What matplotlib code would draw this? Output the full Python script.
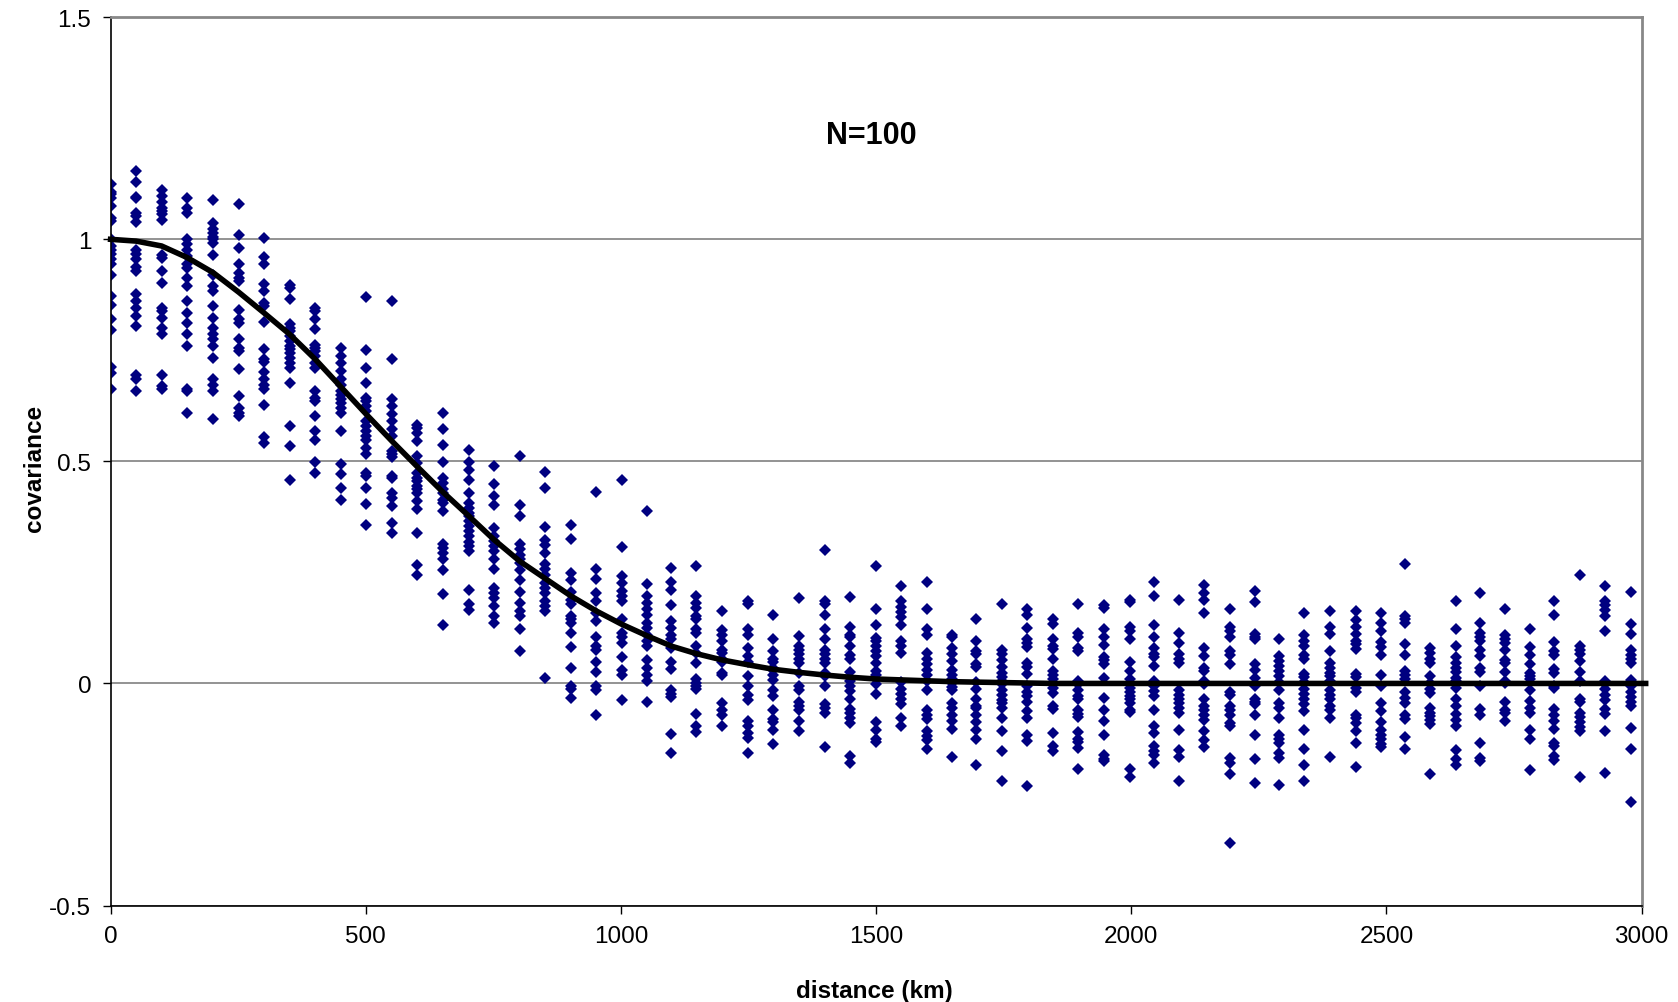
import matplotlib
matplotlib.use("Agg")
import matplotlib.pyplot as plt

# distance classes (km) and sampled covariances per class
distance_km = [0, 50, 100, 150, 201, 251, 300, 351, 401, 451, 501, 551, 601, 652, 702, 751,
               802, 852, 902, 952, 1002, 1052, 1099, 1148, 1198, 1249, 1298, 1349, 1399, 1449,
               1500, 1549, 1599, 1649, 1696, 1746, 1796, 1847, 1896, 1947, 1997, 2044, 2093,
               2143, 2193, 2243, 2289, 2339, 2390, 2440, 2489, 2536, 2586, 2637, 2683, 2732,
               2782, 2829, 2879, 2929, 2979]

samples = [
    [1.124, 1.107, 1.101, 1.092, 1.075, 1.049, 1.041, 1.0, 0.985, 0.977, 0.966, 0.955, 0.944, 0.919, 0.872, 0.853, 0.821, 0.795, 0.713, 0.7, 0.664],
    [1.154, 1.128, 1.096, 1.092, 1.06, 1.052, 1.039, 0.977, 0.968, 0.955, 0.938, 0.929, 0.876, 0.861, 0.846, 0.827, 0.805, 0.694, 0.686, 0.658],
    [1.111, 1.098, 1.084, 1.071, 1.064, 1.056, 1.043, 0.964, 0.959, 0.929, 0.902, 0.846, 0.838, 0.823, 0.801, 0.786, 0.694, 0.67, 0.664],
    [1.092, 1.071, 1.06, 1.0, 0.989, 0.977, 0.962, 0.944, 0.936, 0.914, 0.896, 0.861, 0.835, 0.812, 0.786, 0.76, 0.664, 0.658, 0.609],
    [1.088, 1.036, 1.023, 1.015, 1.006, 1.0, 0.992, 0.964, 0.919, 0.896, 0.884, 0.85, 0.823, 0.801, 0.786, 0.776, 0.76, 0.733, 0.686, 0.673, 0.658, 0.596],
    [1.079, 1.009, 0.981, 0.944, 0.925, 0.914, 0.906, 0.84, 0.82, 0.812, 0.776, 0.756, 0.748, 0.707, 0.648, 0.621, 0.609, 0.602],
    [1.004, 0.961, 0.944, 0.899, 0.884, 0.857, 0.85, 0.814, 0.752, 0.73, 0.724, 0.701, 0.686, 0.673, 0.664, 0.626, 0.555, 0.542],
    [0.898, 0.891, 0.866, 0.809, 0.801, 0.793, 0.782, 0.771, 0.76, 0.752, 0.743, 0.733, 0.722, 0.711, 0.677, 0.58, 0.534, 0.459],
    [0.846, 0.838, 0.82, 0.799, 0.763, 0.756, 0.748, 0.737, 0.722, 0.711, 0.658, 0.643, 0.636, 0.602, 0.568, 0.549, 0.499, 0.473],
    [0.756, 0.737, 0.721, 0.703, 0.685, 0.671, 0.658, 0.649, 0.64, 0.631, 0.621, 0.61, 0.568, 0.495, 0.471, 0.441, 0.414],
    [0.871, 0.751, 0.711, 0.676, 0.643, 0.636, 0.625, 0.613, 0.591, 0.58, 0.568, 0.557, 0.549, 0.531, 0.516, 0.474, 0.467, 0.441, 0.405, 0.356],
    [0.861, 0.73, 0.641, 0.625, 0.606, 0.591, 0.574, 0.557, 0.523, 0.516, 0.51, 0.467, 0.463, 0.429, 0.418, 0.399, 0.362, 0.339],
    [0.583, 0.576, 0.564, 0.546, 0.512, 0.497, 0.474, 0.463, 0.456, 0.444, 0.437, 0.429, 0.411, 0.392, 0.339, 0.266, 0.245],
    [0.61, 0.574, 0.538, 0.498, 0.463, 0.452, 0.437, 0.429, 0.414, 0.407, 0.388, 0.313, 0.305, 0.294, 0.281, 0.255, 0.202, 0.131],
    [0.525, 0.498, 0.48, 0.458, 0.429, 0.407, 0.395, 0.384, 0.377, 0.365, 0.354, 0.343, 0.332, 0.318, 0.309, 0.298, 0.211, 0.178, 0.166],
    [0.489, 0.45, 0.423, 0.401, 0.35, 0.332, 0.32, 0.309, 0.298, 0.281, 0.257, 0.215, 0.204, 0.193, 0.174, 0.151, 0.136],
    [0.512, 0.401, 0.378, 0.313, 0.302, 0.29, 0.281, 0.272, 0.255, 0.233, 0.206, 0.182, 0.163, 0.151, 0.123, 0.073],
    [0.477, 0.441, 0.353, 0.324, 0.311, 0.294, 0.268, 0.257, 0.245, 0.227, 0.215, 0.204, 0.185, 0.174, 0.163, 0.012],
    [0.356, 0.326, 0.248, 0.234, 0.206, 0.189, 0.178, 0.152, 0.144, 0.135, 0.114, 0.082, 0.034, -0.006, -0.012, -0.032],
    [0.432, 0.257, 0.236, 0.203, 0.185, 0.159, 0.14, 0.105, 0.085, 0.076, 0.048, 0.025, -0.005, -0.015, -0.072],
    [0.459, 0.308, 0.243, 0.227, 0.208, 0.198, 0.185, 0.144, 0.114, 0.105, 0.09, 0.06, 0.031, 0.02, -0.038],
    [0.388, 0.225, 0.198, 0.182, 0.168, 0.155, 0.135, 0.125, 0.11, 0.095, 0.084, 0.052, 0.035, 0.02, 0.005, -0.042],
    [0.26, 0.228, 0.21, 0.176, 0.14, 0.125, 0.11, 0.099, 0.08, 0.048, 0.033, -0.014, -0.023, -0.03, -0.113, -0.156],
    [0.264, 0.198, 0.182, 0.17, 0.152, 0.144, 0.123, 0.114, 0.085, 0.069, 0.046, 0.009, 0.001, -0.006, -0.012, -0.068, -0.095, -0.11],
    [0.163, 0.12, 0.11, 0.095, 0.076, 0.069, 0.055, 0.048, 0.024, 0.018, -0.044, -0.059, -0.072, -0.095],
    [0.185, 0.18, 0.123, 0.11, 0.08, 0.061, 0.048, 0.016, -0.005, -0.027, -0.038, -0.085, -0.096, -0.111, -0.123, -0.156],
    [0.153, 0.1, 0.074, 0.055, 0.048, 0.035, 0.03, 0.02, 0.007, -0.014, -0.029, -0.059, -0.081, -0.087, -0.104, -0.137],
    [0.193, 0.106, 0.084, 0.076, 0.067, 0.054, 0.045, 0.024, -0.005, -0.014, -0.042, -0.051, -0.059, -0.085, -0.107],
    [0.3, 0.185, 0.18, 0.153, 0.123, 0.1, 0.076, 0.067, 0.055, 0.046, 0.024, 0.016, -0.006, -0.047, -0.055, -0.066, -0.143],
    [0.194, 0.128, 0.11, 0.105, 0.085, 0.065, 0.055, 0.025, 0.005, -0.006, -0.017, -0.035, -0.057, -0.066, -0.077, -0.09, -0.164, -0.179],
    [0.264, 0.167, 0.131, 0.103, 0.095, 0.084, 0.073, 0.061, 0.046, 0.028, 0.02, 0.009, -0.002, -0.023, -0.087, -0.104, -0.125, -0.132],
    [0.219, 0.185, 0.173, 0.161, 0.15, 0.131, 0.095, 0.085, 0.069, 0.003, -0.012, -0.023, -0.035, -0.047, -0.077, -0.096],
    [0.228, 0.167, 0.122, 0.108, 0.069, 0.054, 0.043, 0.031, 0.02, 0.005, -0.015, -0.06, -0.07, -0.08, -0.107, -0.119, -0.128, -0.147],
    [0.11, 0.105, 0.08, 0.067, 0.05, 0.031, 0.02, 0.009, 0.001, -0.008, -0.014, -0.044, -0.055, -0.07, -0.085, -0.102, -0.165],
    [0.144, 0.095, 0.073, 0.067, 0.043, 0.037, 0.003, -0.012, -0.036, -0.051, -0.055, -0.072, -0.087, -0.105, -0.125, -0.184],
    [0.18, 0.075, 0.067, 0.052, 0.037, 0.024, 0.015, 0.005, -0.002, -0.015, -0.025, -0.038, -0.045, -0.055, -0.077, -0.107, -0.152, -0.219],
    [0.167, 0.155, 0.125, 0.099, 0.09, 0.082, 0.045, 0.037, 0.022, -0.005, -0.02, -0.029, -0.042, -0.062, -0.077, -0.115, -0.13, -0.23],
    [0.146, 0.133, 0.1, 0.084, 0.078, 0.055, 0.028, 0.02, 0.009, 0.0, -0.01, -0.021, -0.05, -0.057, -0.111, -0.141, -0.152],
    [0.18, 0.114, 0.105, 0.08, 0.073, 0.005, -0.002, -0.015, -0.029, -0.036, -0.06, -0.068, -0.075, -0.11, -0.125, -0.132, -0.145, -0.192],
    [0.176, 0.17, 0.123, 0.105, 0.086, 0.06, 0.052, 0.043, 0.013, -0.032, -0.059, -0.085, -0.117, -0.162, -0.17, -0.175],
    [0.189, 0.183, 0.128, 0.118, 0.1, 0.048, 0.028, 0.009, 0.0, -0.01, -0.02, -0.029, -0.036, -0.045, -0.059, -0.065, -0.192, -0.21],
    [0.228, 0.197, 0.131, 0.105, 0.08, 0.067, 0.06, 0.039, 0.005, -0.006, -0.017, -0.029, -0.059, -0.095, -0.111, -0.141, -0.152, -0.162, -0.179],
    [0.189, 0.114, 0.09, 0.067, 0.054, 0.045, -0.014, -0.025, -0.035, -0.045, -0.055, -0.066, -0.104, -0.15, -0.165, -0.219],
    [0.221, 0.203, 0.188, 0.158, 0.08, 0.061, 0.035, 0.028, 0.005, -0.002, -0.036, -0.05, -0.06, -0.072, -0.083, -0.107, -0.128, -0.143],
    [0.167, 0.128, 0.118, 0.105, 0.073, 0.063, 0.043, -0.02, -0.027, -0.051, -0.06, -0.07, -0.089, -0.095, -0.168, -0.179, -0.205, -0.36],
    [0.208, 0.183, 0.112, 0.105, 0.099, 0.043, 0.03, 0.013, -0.006, -0.035, -0.042, -0.047, -0.072, -0.117, -0.17, -0.224],
    [0.1, 0.061, 0.05, 0.039, 0.028, 0.016, 0.003, -0.015, -0.045, -0.055, -0.077, -0.115, -0.125, -0.134, -0.156, -0.168, -0.228],
    [0.158, 0.11, 0.095, 0.084, 0.065, 0.055, 0.022, 0.015, 0.003, -0.012, -0.023, -0.035, -0.047, -0.062, -0.104, -0.147, -0.183, -0.22],
    [0.163, 0.128, 0.112, 0.073, 0.046, 0.035, 0.024, 0.016, 0.005, -0.015, -0.025, -0.035, -0.051, -0.06, -0.077, -0.165],
    [0.163, 0.143, 0.128, 0.112, 0.095, 0.088, 0.078, 0.022, 0.015, -0.01, -0.02, -0.07, -0.077, -0.09, -0.107, -0.134, -0.188],
    [0.159, 0.135, 0.118, 0.093, 0.082, 0.065, 0.018, -0.005, -0.045, -0.062, -0.087, -0.104, -0.115, -0.125, -0.137, -0.143],
    [0.27, 0.152, 0.144, 0.135, 0.088, 0.065, 0.028, 0.02, 0.01, -0.02, -0.032, -0.045, -0.07, -0.081, -0.12, -0.147],
    [0.08, 0.069, 0.055, 0.046, 0.016, 0.001, -0.012, -0.021, -0.055, -0.066, -0.074, -0.083, -0.092, -0.205],
    [0.185, 0.123, 0.084, 0.06, 0.046, 0.035, 0.025, 0.013, 0.005, -0.01, -0.035, -0.051, -0.068, -0.083, -0.095, -0.15, -0.17, -0.183],
    [0.203, 0.135, 0.114, 0.105, 0.095, 0.076, 0.061, 0.035, 0.025, -0.006, -0.057, -0.072, -0.134, -0.168, -0.175],
    [0.167, 0.11, 0.1, 0.09, 0.076, 0.052, 0.046, 0.025, 0.005, 0.0, -0.042, -0.06, -0.066, -0.085],
    [0.123, 0.082, 0.063, 0.043, 0.024, 0.016, 0.009, -0.015, -0.04, -0.055, -0.066, -0.105, -0.125, -0.195],
    [0.185, 0.153, 0.093, 0.073, 0.063, 0.033, 0.024, -0.005, -0.01, -0.057, -0.07, -0.085, -0.102, -0.134, -0.141, -0.164, -0.173],
    [0.245, 0.084, 0.075, 0.067, 0.05, 0.025, 0.005, -0.035, -0.042, -0.066, -0.075, -0.087, -0.098, -0.107, -0.21],
    [0.219, 0.185, 0.176, 0.165, 0.152, 0.118, 0.005, -0.002, -0.012, -0.025, -0.038, -0.057, -0.068, -0.107, -0.201],
    [0.206, 0.133, 0.112, 0.075, 0.063, 0.054, 0.045, 0.007, -0.005, -0.02, -0.03, -0.042, -0.05, -0.1, -0.147, -0.267],
]

# fitted covariance model
fit_km = distance_km + [3008]
fit_cov = [1.0, 0.996, 0.985, 0.959, 0.925, 0.881, 0.835, 0.786, 0.73, 0.668, 0.606, 0.546,
           0.488, 0.43, 0.377, 0.324, 0.275, 0.236, 0.197, 0.163, 0.133, 0.107, 0.084, 0.067,
           0.053, 0.042, 0.032, 0.025, 0.019, 0.014, 0.01, 0.008, 0.006, 0.004, 0.003, 0.002,
           0.001, 0, 0, 0, 0, 0, 0, 0, 0, 0, 0, 0, 0, 0, 0, 0, 0, 0, 0, 0, 0, 0, 0, 0, 0, 0]

y_ticks = [-0.5, 0, 0.5, 1, 1.5]
y_tick_labels = ['-0.5', '0', '0.5', '1', '1.5']
x_ticks = [0, 500, 1000, 1500, 2000, 2500, 3000]

plt.rcParams['font.family'] = ['Liberation Sans', 'DejaVu Sans']

fig = plt.figure(figsize=(16.78, 10.03), dpi=100)
ax = fig.add_axes([0.0659, 0.0962, 0.9124, 0.8856])

for d, vals in zip(distance_km, samples):
    ax.plot([d] * len(vals), vals, linestyle='none', marker='D', markersize=6.5,
            color='#000080', markeredgewidth=0, zorder=2)

ax.plot(fit_km, fit_cov, color='black', lw=4, zorder=3, clip_on=False)

ax.set_xlim(0, 3000)
ax.set_ylim(-0.5, 1.5)
ax.set_xticks(x_ticks)
ax.set_yticks(y_ticks)
ax.set_yticklabels(y_tick_labels)
ax.tick_params(axis='both', direction='out', length=6, width=1, labelsize=17.5, colors='black', pad=8)
ax.grid(axis='y', color='#808080', lw=1.2, zorder=1)

for side in ['left', 'bottom']:
    ax.spines[side].set_color('black')
    ax.spines[side].set_linewidth(1.2)
for side in ['top', 'right']:
    ax.spines[side].set_color('#888888')
    ax.spines[side].set_linewidth(2)

fig.text(874 / 1678, 1 - 992 / 1003, 'distance (km)', ha='center', va='center',
         fontsize=17.5, fontweight='bold')
fig.text(35 / 1678, 1 - 468 / 1003, 'covariance', ha='center', va='center',
         rotation=90, fontsize=17.5, fontweight='bold')
fig.text(871 / 1678, 1 - 136 / 1003, 'N=100', ha='center', va='center',
         fontsize=22, fontweight='bold')

fig.savefig('out.png', dpi=100)
